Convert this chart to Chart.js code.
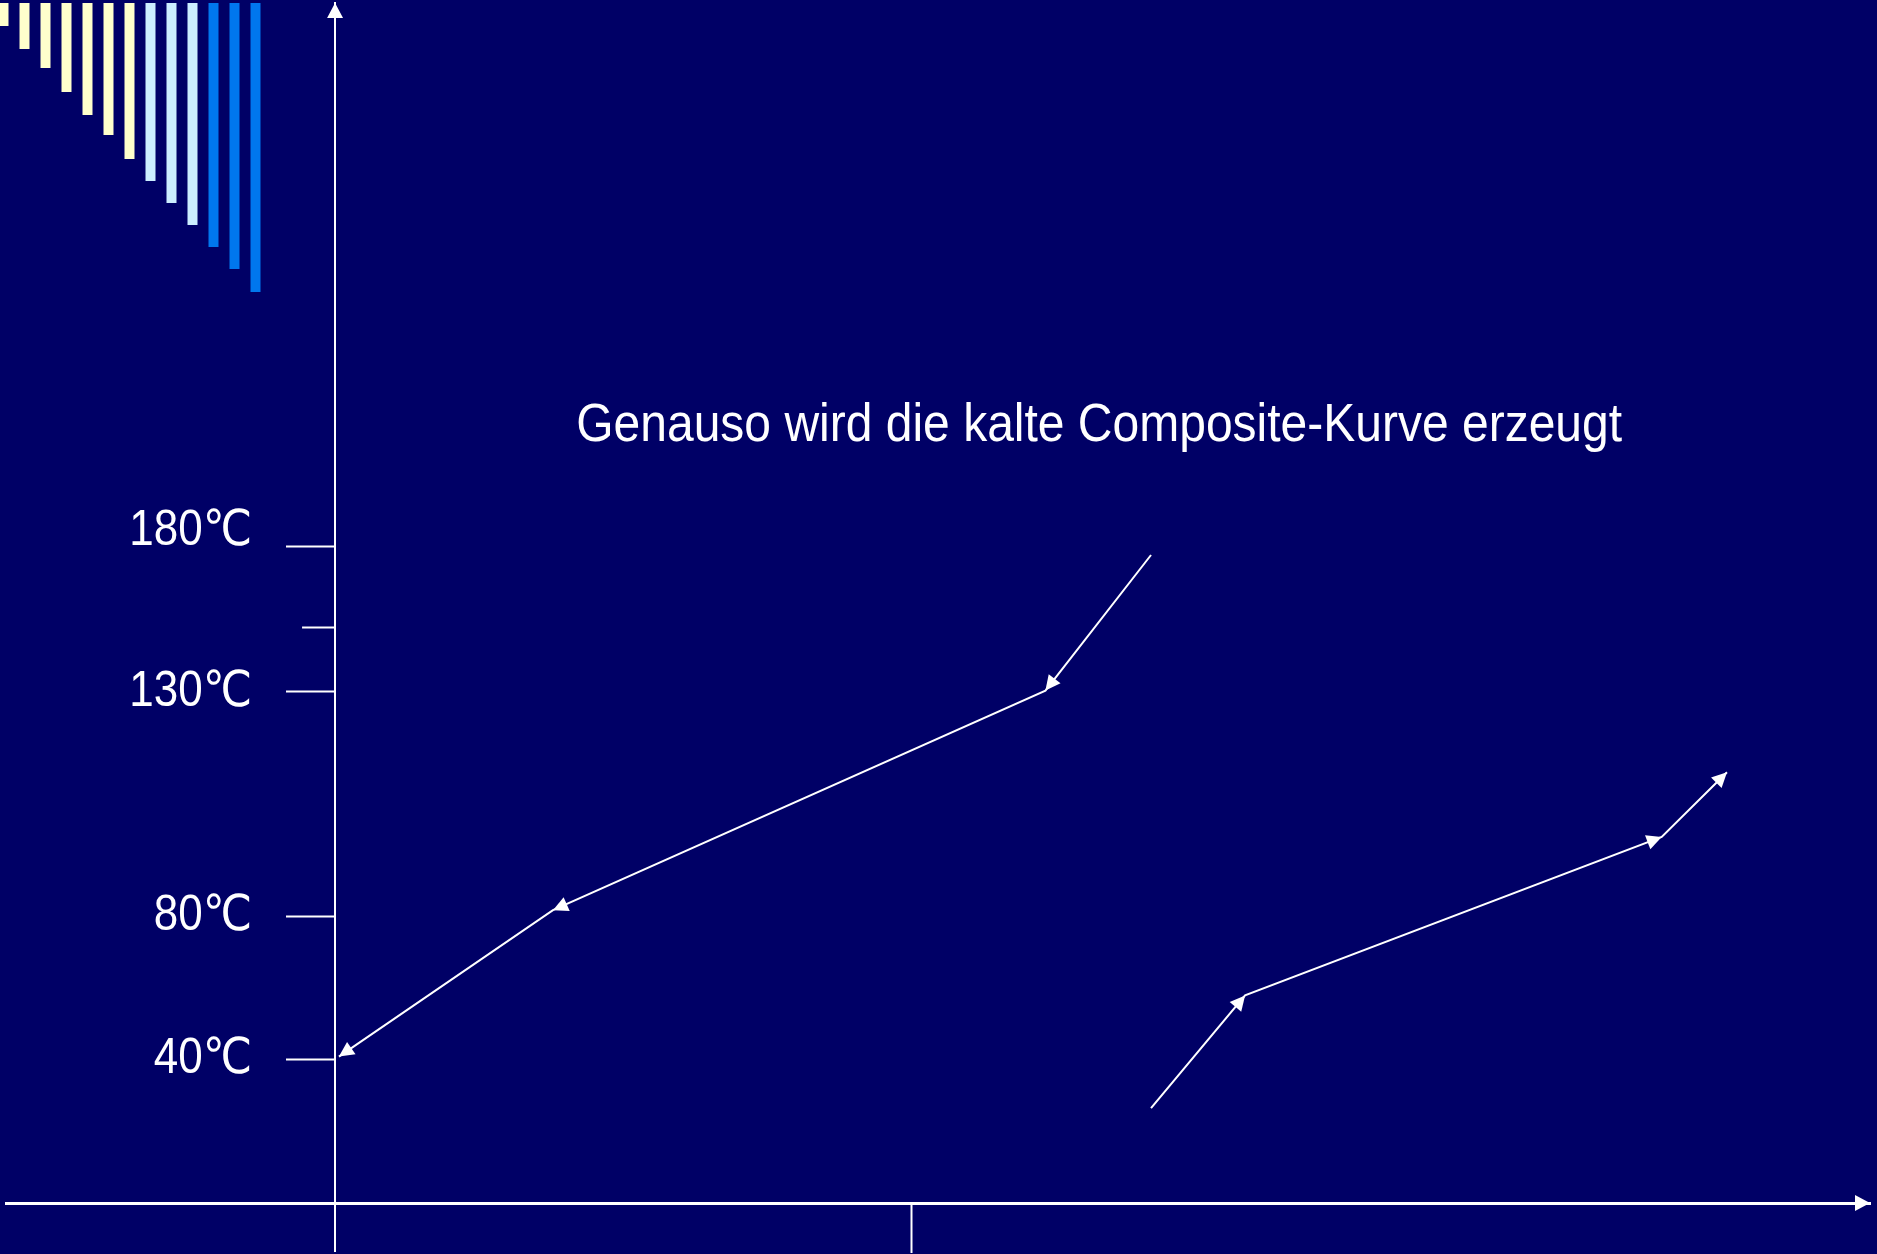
<!DOCTYPE html>
<html>
<head>
<meta charset="utf-8">
<script src="https://cdn.jsdelivr.net/npm/chart.js@4.4.1/dist/chart.umd.min.js"></script>
<style>
  html, body { margin: 0; padding: 0; background: #000066; overflow: hidden; }
  #main { position: absolute; left: 0; top: 0; }
  #stripes { position: absolute; left: -7px; top: 3px; z-index: 2; }
</style>
</head>
<body>
<canvas id="main" width="1877" height="1254"></canvas>
<canvas id="stripes" width="273" height="300"></canvas>
<script>
// hot composite curve (drawn from top right down to the y axis)
const hotX = [42.5, 37.0, 11.35, 0.2];
const hotY = [54.0, 42.7, 24.4, 12.2];
// cold composite curve (drawn from bottom left up)
const coldX = [42.5, 47.4, 69.1, 72.5];
const coldY = [7.9, 17.3, 30.5, 35.9];

// schematic temperature axis
const yTickValues = [12.0, 23.9, 42.6, 48.0, 54.7];
const yTickLabels = ['40℃', '80℃', '130℃', '', '180℃'];
const xTickValues = [30];

const titleText = 'Genauso wird die kalte Composite-Kurve erzeugt';

// decorative stripes top left
const stripeLengths = [23, 46, 65, 89, 112, 132, 156, 178, 200, 222, 244, 266, 289];
const stripeColors = ['#ffffcc', '#ffffcc', '#ffffcc', '#ffffcc', '#ffffcc', '#ffffcc', '#ffffcc',
  '#cceeff', '#cceeff', '#cceeff', '#0077ee', '#0077ee', '#0077ee'];

const fontFamily = '"Liberation Sans", Arial, "DejaVu Sans", sans-serif';

function toPoints(xs, ys) {
  return xs.map((x, i) => ({ x: x, y: ys[i] }));
}

function drawHead(ctx, x, y, angle, len, half) {
  ctx.save();
  ctx.translate(x, y);
  ctx.rotate(angle);
  ctx.beginPath();
  ctx.moveTo(0, 0);
  ctx.lineTo(-len, -half);
  ctx.lineTo(-len, half);
  ctx.closePath();
  ctx.fill();
  ctx.restore();
}

// slide text is slightly stretched vertically
function stretchedText(ctx, text, x, y) {
  ctx.save();
  ctx.translate(x, y);
  ctx.scale(1, 1.12);
  ctx.fillText(text, 0, 0);
  ctx.restore();
}

const arrowPlugin = {
  id: 'arrows',
  afterDatasetsDraw(chart) {
    const ctx = chart.ctx;
    ctx.fillStyle = '#ffffff';
    chart.data.datasets.forEach((ds, di) => {
      const pts = chart.getDatasetMeta(di).data;
      for (let i = 1; i < pts.length; i++) {
        const a = pts[i - 1], b = pts[i];
        drawHead(ctx, b.x, b.y, Math.atan2(b.y - a.y, b.x - a.x), 15, 7.5);
      }
    });
  },
  afterDraw(chart) {
    const ctx = chart.ctx;
    const xs = chart.scales.x, ys = chart.scales.y;
    const ax = xs.getPixelForValue(0);
    const ay = ys.getPixelForValue(0);
    ctx.save();
    ctx.fillStyle = '#ffffff';
    ctx.strokeStyle = '#ffffff';
    // axis arrow heads
    drawHead(ctx, ax, chart.chartArea.top, -Math.PI / 2, 15, 8);
    drawHead(ctx, chart.chartArea.right, ay, 0, 15, 8);
    // short unlabeled tick + tick labels
    ctx.font = '44px ' + fontFamily;
    ctx.textAlign = 'right';
    ctx.textBaseline = 'middle';
    yTickValues.forEach((v, i) => {
      const py = Math.round(ys.getPixelForValue(v)) + 0.5;
      if (!yTickLabels[i]) {
        ctx.lineWidth = 2;
        ctx.beginPath();
        ctx.moveTo(ax - 33, py);
        ctx.lineTo(ax, py);
        ctx.stroke();
        return;
      }
      // the top label sits a little above its tick in the slide
      const nudge = i === yTickValues.length - 1 ? -16 : 0;
      stretchedText(ctx, yTickLabels[i], ax - 83, py + nudge);
    });
    // heading
    ctx.font = '48px ' + fontFamily;
    ctx.textAlign = 'center';
    stretchedText(ctx, titleText, xs.getPixelForValue(39.8), ys.getPixelForValue(64.7));
    ctx.restore();
  }
};

new Chart(document.getElementById('main'), {
  type: 'line',
  data: {
    datasets: [
      { data: toPoints(hotX, hotY), borderColor: '#ffffff', borderWidth: 2, pointRadius: 0, tension: 0 },
      { data: toPoints(coldX, coldY), borderColor: '#ffffff', borderWidth: 2, pointRadius: 0, tension: 0 }
    ]
  },
  options: {
    responsive: false,
    animation: false,
    events: [],
    layout: { autoPadding: false, padding: { left: 6, right: 7, top: 3, bottom: 3 } },
    plugins: { legend: { display: false }, tooltip: { enabled: false } },
    scales: {
      x: {
        type: 'linear',
        min: -17.14,
        max: 79.95,
        position: { y: 0 },
        border: { color: '#ffffff', width: 3 },
        grid: { drawOnChartArea: false, tickLength: 48, tickColor: '#ffffff', tickWidth: 2 },
        ticks: { display: false },
        afterBuildTicks: (s) => { s.ticks = xTickValues.map(v => ({ value: v })); }
      },
      y: {
        type: 'linear',
        min: -4,
        max: 100,
        position: { x: 0 },
        border: { color: '#ffffff', width: 2 },
        grid: {
          drawOnChartArea: false,
          tickLength: 48,
          tickWidth: 2,
          tickColor: (c) => yTickLabels[c.index] ? '#ffffff' : 'rgba(0,0,0,0)'
        },
        ticks: { display: false },
        afterBuildTicks: (s) => { s.ticks = yTickValues.map(v => ({ value: v })); }
      }
    }
  },
  plugins: [arrowPlugin]
});

new Chart(document.getElementById('stripes'), {
  type: 'bar',
  data: {
    labels: stripeLengths.map((v, i) => i + 1),
    datasets: [{
      data: stripeLengths,
      backgroundColor: stripeColors,
      borderWidth: 0,
      categoryPercentage: 1,
      barPercentage: 0.476
    }]
  },
  options: {
    responsive: false,
    animation: false,
    events: [],
    layout: { padding: 0 },
    plugins: { legend: { display: false }, tooltip: { enabled: false } },
    scales: {
      x: { display: false },
      y: { display: false, reverse: true, min: 0, max: 300 }
    }
  }
});
</script>
</body>
</html>
